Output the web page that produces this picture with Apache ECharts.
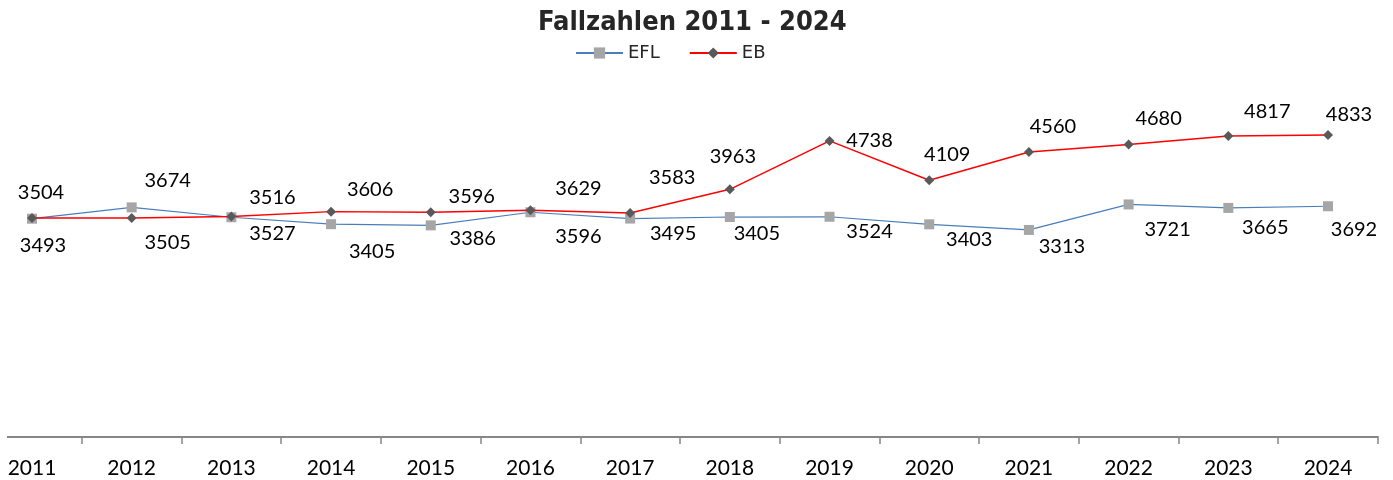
<!DOCTYPE html>
<html>
<head>
<meta charset="utf-8">
<script src="https://cdn.jsdelivr.net/npm/echarts@6/dist/echarts.min.js"></script>
<style>
html,body{margin:0;padding:0;background:#fff;}
#chart{width:1393px;height:480px;}
</style>
</head>
<body>
<div id="chart"></div>
<script>
const years = ['2011','2012','2013','2014','2015','2016','2017','2018','2019','2020','2021','2022','2023','2024'];
const eflValues = [3493, 3674, 3516, 3405, 3386, 3596, 3495, 3520, 3524, 3403, 3313, 3721, 3665, 3692];
const ebValues  = [3504, 3505, 3527, 3606, 3596, 3629, 3583, 3963, 4738, 4109, 4560, 4680, 4817, 4833];
const eflLabels = ['3493','3674','3516','3405','3386','3596','3495','3405','3524','3403','3313','3721','3665','3692'];
const ebLabels  = ['3504','3505','3527','3606','3596','3629','3583','3963','4738','4109','4560','4680','4817','4833'];

// label placement (manually dragged labels in the original)
const eflLabelOffsets = [[11,27],[36,-27],[41,-20],[41,27],[42,13],[48,24],[43,15],[27,17],[40,15],[40,15],[33,17],[39,25],[37,20],[26,23]];
const ebLabelOffsets  = [[9,-25],[36,25],[41,17],[39,-22],[41,-16],[48,-22],[42,-36],[3,-33],[40,0],[18,-26],[24,-25],[30,-26],[39,-24],[21,-20]];

function buildData(values, labels, offsets) {
  return values.map(function (v, i) {
    return { value: v, label: { formatter: labels[i], offset: offsets[i] } };
  });
}

const labelStyle = {
  show: true,
  position: 'inside',
  fontFamily: 'Lato',
  fontSize: 20,
  color: '#000'
};

const chart = echarts.init(document.getElementById('chart'), null, { renderer: 'canvas' });
chart.setOption({
  animation: false,
  backgroundColor: '#fff',
  title: {
    text: 'Fallzahlen 2011 - 2024',
    left: 533,
    top: 4,
    textStyle: {
      fontFamily: '"DejaVu Sans Condensed", "DejaVu Sans"',
      fontWeight: 'bold',
      fontSize: 27,
      color: '#262626'
    }
  },
  legend: {
    data: ['EFL', 'EB'],
    left: 575,
    top: 44,
    padding: 0,
    itemWidth: 47,
    itemHeight: 14,
    itemGap: 29,
    textStyle: {
      fontFamily: '"DejaVu Sans"',
      fontSize: 18,
      color: '#262626'
    }
  },
  grid: {
    left: -17.85,
    width: 1395.7,
    top: 124.5,
    height: 312.5,
    containLabel: false,
    outerBoundsMode: 'none'
  },
  xAxis: {
    type: 'category',
    data: years,
    boundaryGap: true,
    axisLine: { show: true, lineStyle: { color: '#868686', width: 2 } },
    axisTick: { show: true, length: 7, lineStyle: { color: '#868686', width: 1.5 } },
    axisLabel: {
      margin: 20,
      fontFamily: 'Lato',
      fontSize: 21,
      lineHeight: 22,
      color: '#000'
    },
    splitLine: { show: false }
  },
  yAxis: {
    type: 'value',
    min: 0,
    max: 5000,
    show: false
  },
  series: [
    {
      name: 'EFL',
      type: 'line',
      data: buildData(eflValues, eflLabels, eflLabelOffsets),
      symbol: 'rect',
      symbolSize: 10,
      itemStyle: { color: '#a6a6a6' },
      lineStyle: { color: '#4a7ebb', width: 1.25 },
      label: labelStyle,
      z: 2
    },
    {
      name: 'EB',
      type: 'line',
      data: buildData(ebValues, ebLabels, ebLabelOffsets),
      symbol: 'diamond',
      symbolSize: 10,
      itemStyle: { color: '#595959' },
      lineStyle: { color: '#ff0000', width: 1.5 },
      label: labelStyle,
      z: 3
    }
  ],
  graphic: [
    {
      type: 'rect',
      left: 0,
      top: 428,
      shape: { width: 7, height: 20 },
      style: { fill: '#fff' },
      z: 100
    }
  ]
});
</script>
</body>
</html>
